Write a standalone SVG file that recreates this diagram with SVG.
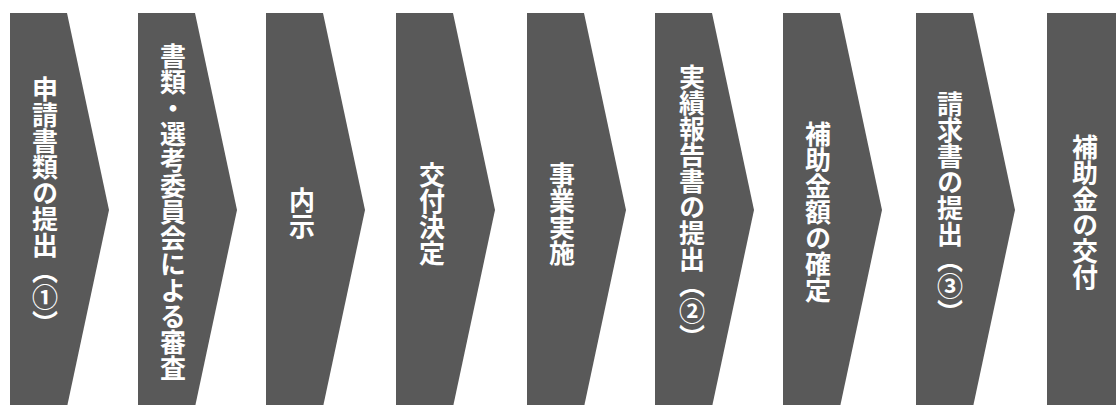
<svg xmlns="http://www.w3.org/2000/svg" width="1116" height="405" viewBox="0 0 1116 405">
<style>
.c{fill:#595959}
.t{fill:#ffffff;font-family:"Noto Sans CJK JP","Noto Sans CJK SC",sans-serif;font-weight:bold;font-size:26px;writing-mode:vertical-rl;text-anchor:middle}
</style>
<defs>
<path id="chev" d="M0,13 H57 L99,210 L57,407 H0 Z"/>
</defs>
<rect width="1116" height="405" fill="#ffffff"/>
<g id="step1"><use href="#chev" class="c" x="10"/><text class="t" x="45" y="206">申請書類の提出（①）</text></g>
<g id="step2"><use href="#chev" class="c" x="138"/><text class="t" x="173" y="212">書類・選考委員会による審査</text></g>
<g id="step3"><use href="#chev" class="c" x="266"/><text class="t" x="302" y="213">内示</text></g>
<g id="step4"><use href="#chev" class="c" x="396"/><text class="t" x="432" y="214">交付決定</text></g>
<g id="step5"><use href="#chev" class="c" x="527"/><text class="t" x="562" y="214">事業実施</text></g>
<g id="step6"><use href="#chev" class="c" x="655"/><text class="t" x="692" y="207">実績報告書の提出（②）</text></g>
<g id="step7"><use href="#chev" class="c" x="783"/><text class="t" x="818" y="212">補助金額の確定</text></g>
<g id="step8"><use href="#chev" class="c" x="916"/><text class="t" x="950" y="208">請求書の提出（③）</text></g>
<g id="step9"><rect class="c" x="1047" y="13" width="69" height="394"/><text class="t" x="1085" y="212">補助金の交付</text></g>
<g id="connectors"></g>
</svg>
